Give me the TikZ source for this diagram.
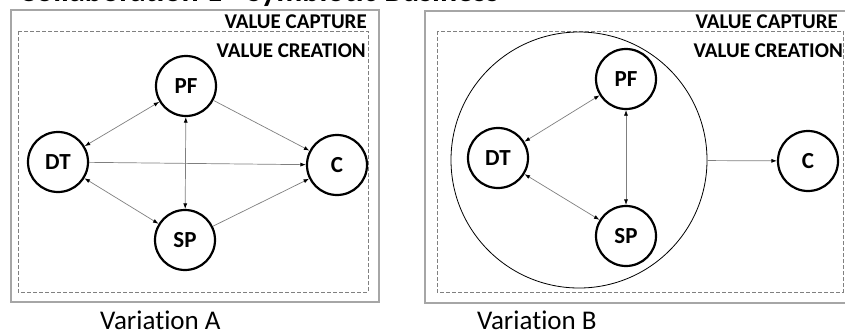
\documentclass[tikz,border=0pt]{standalone}
\usepackage{fontspec}
\setmainfont{Carlito}[Ligatures=NoCommon]
\usetikzlibrary{arrows.meta}
\definecolor{boxgray}{HTML}{A6A6A6}
\definecolor{dashgray}{HTML}{808080}
\definecolor{linegray}{HTML}{7F7F7F}
\tikzset{
  ent/.style={circle, draw=black, line width=2.2pt, minimum size=60pt, inner sep=0pt,
    font=\fontsize{23}{25}\selectfont\bfseries},
  outerbox/.style={draw=boxgray, line width=1.4pt},
  innerbox/.style={draw=dashgray, line width=0.8pt, dash pattern=on 4pt off 2pt},
  zone/.style={font=\fontsize{21}{23}\selectfont\bfseries, inner sep=0pt},
  captxt/.style={font=\fontsize{27}{29}\selectfont, inner sep=0pt},
  link/.style={draw=linegray, line width=0.7pt},
  tipL/.tip={Latex[length=5.5pt,width=4pt,color=black]},
  uni/.style={link, -tipL},
  bi/.style={link, tipL-tipL},
}
\begin{document}
\begin{tikzpicture}[x=1pt,y=-1pt]
\useasboundingbox (0,0) rectangle (845,335);
\begin{scope}
\clip (0,0) rectangle (845,335);
\node[anchor=base west, inner sep=0pt, font=\fontsize{32}{34}\selectfont\bfseries] (title) at (19,1) {Collaboration 1 - Symbiotic Business};
% Variation A boxes
\draw[outerbox] (11,10) rectangle (379,302);
\draw[innerbox] (18,31) rectangle (368,292);
% Variation B boxes
\draw[outerbox] (425,11) rectangle (860,303);
\draw[innerbox] (437,31) rectangle (843,292);
\end{scope}
\node[zone, anchor=base east] (capA) at (367,28) {VALUE CAPTURE};
\node[zone, anchor=base east] (creA) at (366,57) {VALUE CREATION};
\node[zone, anchor=base east] (capB) at (838,28) {VALUE CAPTURE};
\node[zone, anchor=base east] (creB) at (843,57) {VALUE CREATION};
% Variation A nodes
\node[ent] (pfA) at (186,86) {PF};
\node[ent] (dtA) at (58,162) {DT};
\node[ent] (spA) at (185,240) {SP};
\node[ent] (cA) at (337,165) {C};
\draw[bi] (dtA) -- (pfA);
\draw[bi] (pfA) -- (spA);
\draw[bi] (dtA) -- (spA);
\draw[uni] (pfA) -- (cA);
\draw[uni] (dtA) -- (cA);
\draw[uni] (spA) -- (cA);
% Variation B nodes
\node[circle, draw=black, line width=0.8pt, minimum size=256pt, inner sep=0pt] (grp) at (579,160) {};
\node[ent] (pfB) at (626,79) {PF};
\node[ent] (dtB) at (498,158) {DT};
\node[ent] (spB) at (626,236) {SP};
\node[ent] (cB) at (808,161) {C};
\draw[bi] (dtB) -- (pfB);
\draw[bi] (pfB) -- (spB);
\draw[bi] (dtB) -- (spB);
\draw[uni] (grp) -- (cB);
% captions
\node[captxt, anchor=base west] (varA) at (100,329) {Variation A};
\node[captxt, anchor=base west] (varB) at (477,329) {Variation B};
\end{tikzpicture}
\end{document}
